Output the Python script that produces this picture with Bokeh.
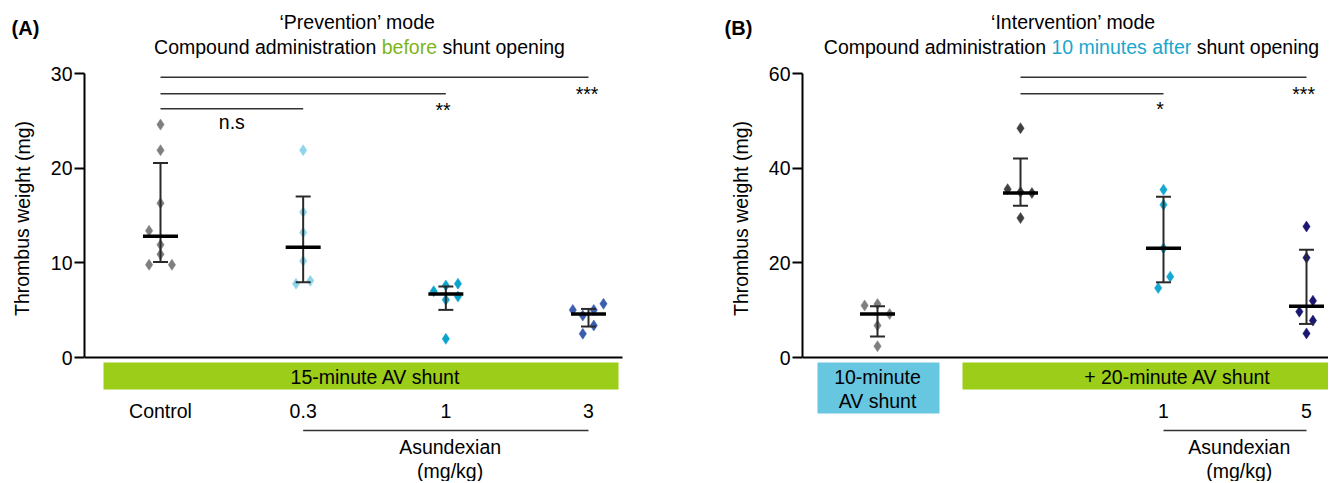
from bokeh.plotting import figure
from bokeh.models import Range1d, FixedTicker, Label
from bokeh.layouts import row
from bokeh.core.properties import value
from bokeh.embed import file_html
from bokeh.resources import INLINE

# ------------------------- data -------------------------
# Panel A : 'Prevention' mode
a_categories = ["Control", "0.3", "1", "3"]
a_control = [24.6, 21.9, 16.3, 13.4, 11.9, 10.9, 9.8, 9.8]
a_control_dx = [0, 0, 0, -0.08, 0, 0, -0.08, 0.08]
a_dose03 = [21.9, 15.35, 13.2, 10.2, 8.1, 7.8]
a_dose03_dx = [0, 0, 0, 0, 0.05, -0.05]
a_dose1 = [7.8, 7.6, 7.0, 6.44, 6.1, 1.97]
a_dose1_dx = [0.085, 0, -0.085, 0.085, 0, 0]
a_dose3 = [5.67, 5.03, 5.03, 4.43, 3.38, 2.5]
a_dose3_dx = [0.105, -0.11, 0.037, -0.04, 0.037, -0.04]
a_median = [12.8, 11.65, 6.72, 4.6]
a_low = [10.1, 7.95, 5.03, 3.27]
a_high = [20.55, 17.0, 7.5, 5.13]
a_colors = ["#7f7f7f", "#8fd5ea", "#0aa3cc", "#3a5dae"]
a_yticks = [0, 10, 20, 30]

# Panel B : 'Intervention' mode
b_categories = ["10-minute AV shunt", "Vehicle", "1", "5"]
b_shunt10 = [11.3, 11.0, 9.2, 6.76, 2.4]
b_shunt10_dx = [0, -0.09, 0.085, 0, 0]
b_vehicle = [48.5, 35.6, 35.0, 34.8, 29.5]
b_vehicle_dx = [0, -0.09, 0, 0.08, 0]
b_dose1 = [35.5, 32.3, 23.1, 17.1, 14.7]
b_dose1_dx = [0, 0, 0, 0.047, -0.037]
b_dose5 = [27.7, 21.1, 12.0, 9.7, 7.8, 5.1]
b_dose5_dx = [0, 0, 0.045, -0.05, 0.045, 0]
b_median = [9.2, 34.8, 23.1, 10.85]
b_low = [4.44, 32.1, 15.9, 7.1]
b_high = [10.85, 42.1, 34.0, 22.8]
b_colors = ["#7f7f7f", "#404040", "#14a8d0", "#1b1670"]
b_yticks = [0, 20, 40, 60]

# ------------------------- styling -------------------------
FONT = "Liberation Sans"
FS = "19.5px"
H = 481
GREEN = "#9bcd19"
GREEN_TXT = "#7cb518"
LIGHTBLUE = "#67c6e0"
CYAN_TXT = "#1aa7cc"

ARIAL = {' ': 278, 'a': 556, 'b': 556, 'c': 500, 'd': 556, 'e': 556, 'f': 278, 'g': 556,
         'h': 556, 'i': 222, 'm': 833, 'n': 556, 'o': 556, 'p': 556, 'r': 333, 's': 500,
         't': 278, 'u': 556, 'C': 722, '0': 556, '1': 556}


def text_width(s, px):
    return sum(ARIAL.get(ch, 556) for ch in s) / 1000.0 * px


def side_figure(page_left, width, items):
    """Narrow figure for the panel letter and the rotated y-axis title (page pixel coords)."""
    f = figure(width=width, height=H, output_backend="svg", toolbar_location=None,
               x_axis_location=None, y_axis_location=None,
               min_border_left=0, min_border_right=0, min_border_top=0, min_border_bottom=0,
               x_range=Range1d(page_left, page_left + width), y_range=Range1d(H, 0))
    f.outline_line_color = None
    f.grid.visible = False
    for (x, y, t, size, style, ang) in items:
        f.text(x=[x], y=[y], text=[t], text_font=value(FONT), text_font_size=value(size),
               text_font_style=value(style), text_color="black", text_align="center",
               text_baseline="middle", angle=ang)
    return f


class Panel:
    """Figure + conversion from page pixel layout to data coordinates."""

    def __init__(self, page_left, width, frame_left, cat0_px, cat3_px, y0_px, ytop_px, ytop_val, ytop_tick):
        self.sx = (cat3_px - cat0_px) / 3.0
        self.cat0 = cat0_px
        self.sy = (y0_px - ytop_px) / ytop_val
        self.y0 = y0_px
        frame_right = page_left + width
        self.p = figure(width=width, height=H, output_backend="svg", toolbar_location=None,
                        x_axis_location=None, min_border_left=frame_left - page_left,
                        min_border_right=0, min_border_top=0, min_border_bottom=0,
                        x_range=Range1d(self.x(frame_left), self.x(frame_right)),
                        y_range=Range1d(self.y(H), self.y(0)))
        p = self.p
        p.outline_line_color = None
        p.grid.visible = False
        p.background_fill_color = "white"
        p.border_fill_color = "white"
        ax = p.yaxis[0]
        ax.bounds = (0, ytop_val)
        ax.ticker = FixedTicker(ticks=ytop_tick)
        ax.minor_tick_line_color = None
        ax.major_tick_in = 0
        ax.major_tick_out = 10
        ax.major_tick_line_width = 2
        ax.axis_line_width = 2
        ax.axis_line_color = "black"
        ax.major_tick_line_color = "black"
        ax.major_label_text_font = FONT
        ax.major_label_text_font_size = FS
        ax.major_label_text_color = "black"
        ax.major_label_standoff = 2

    def x(self, px):
        return (px - self.cat0) / self.sx

    def y(self, py):
        return (self.y0 - py) / self.sy

    def label(self, X, Y, text, size=FS, color="black", align="center", bold=False, angle=0.0):
        self.p.add_layout(Label(x=X, y=Y, text=text, text_font=FONT, text_font_size=size,
                                text_color=color, text_align=align, text_baseline="middle",
                                text_font_style="bold" if bold else "normal", angle=angle))

    def title_parts(self, center_px, py, parts):
        total = text_width("".join(t for t, _ in parts), 19.5)
        x = center_px - total / 2.0
        for t, c in parts:
            lead = len(t) - len(t.lstrip(" "))
            xs = x + text_width(" " * lead, 19.5)
            self.label(self.x(xs), self.y(py), t.strip(" "), color=c, align="left")
            x += text_width(t, 19.5)

    def groups(self, values, offsets, colors, med, lo, hi):
        p = self.p
        for i, (vals, dx) in enumerate(zip(values, offsets)):
            p.scatter([i + d for d in dx], vals, marker="diamond", size=11,
                      fill_color=colors[i], line_color=colors[i], line_width=0.5)
        cw = 7.5 / self.sx
        mw = 17.5 / self.sx
        idx = list(range(len(med)))
        p.segment(x0=idx, y0=lo, x1=idx, y1=hi, line_width=2, line_color="#2a2a2a")
        p.segment(x0=[i - cw for i in idx], y0=hi, x1=[i + cw for i in idx], y1=hi,
                  line_width=2, line_color="#2a2a2a")
        p.segment(x0=[i - cw for i in idx], y0=lo, x1=[i + cw for i in idx], y1=lo,
                  line_width=2, line_color="#2a2a2a")
        p.segment(x0=[i - mw for i in idx], y0=med, x1=[i + mw for i in idx], y1=med,
                  line_width=3.5, line_color="black")

    def sig(self, i0, i1, py, mark, mark_x, mark_py):
        self.p.segment(x0=[i0], y0=[self.y(py)], x1=[i1], y1=[self.y(py)],
                       line_width=1.6, line_color="#333333")
        self.label(mark_x, self.y(mark_py), mark)


# ------------------------- Panel A -------------------------
sideA = side_figure(0, 44, [(25, 27, "(A)", "20px", "bold", 0.0),
                            (22, 218, "Thrombus weight (mg)", FS, "normal", 1.5707963)])
A = Panel(page_left=44, width=664, frame_left=84, cat0_px=160, cat3_px=588,
          y0_px=357, ytop_px=73, ytop_val=30, ytop_tick=a_yticks)
pa = A.p
A.groups([a_control, a_dose03, a_dose1, a_dose3],
         [a_control_dx, a_dose03_dx, a_dose1_dx, a_dose3_dx], a_colors, a_median, a_low, a_high)
pa.segment(x0=[A.x(84)], y0=[0], x1=[A.x(622)], y1=[0], line_width=2, line_color="black")
A.sig(0, 3, 76.7, "***", 3 - 0.01, 93)
A.sig(0, 2, 93.3, "**", 2 - 0.02, 109)
A.sig(0, 1, 108.3, "n.s", 0.5, 121)
A.label(A.x(357), A.y(21.7), "\u2018Prevention\u2019 mode")
A.title_parts(359, 46.7, [("Compound administration ", "black"), ("before", GREEN_TXT),
                          (" shunt opening", "black")])
pa.quad(left=[A.x(103)], right=[A.x(618)], top=[A.y(362)], bottom=[A.y(389)],
        fill_color=GREEN, line_color=None)
A.label(A.x(375), A.y(376.7), "15-minute AV shunt")
for i, c in enumerate(a_categories):
    A.label(i, A.y(410), c)
pa.segment(x0=[1], y0=[A.y(430)], x1=[3], y1=[A.y(430)], line_width=1.6, line_color="#333333")
A.label(2.03, A.y(446), "Asundexian")
A.label(2.03, A.y(470), "(mg/kg)")

# ------------------------- Panel B -------------------------
sideB = side_figure(708, 48, [(738, 27, "(B)", "20px", "bold", 0.0),
                              (740, 218, "Thrombus weight (mg)", FS, "normal", 1.5707963)])
B = Panel(page_left=756, width=572, frame_left=802, cat0_px=877, cat3_px=1306,
          y0_px=357, ytop_px=73.3, ytop_val=60, ytop_tick=b_yticks)
pb = B.p
B.groups([b_shunt10, b_vehicle, b_dose1, b_dose5],
         [b_shunt10_dx, b_vehicle_dx, b_dose1_dx, b_dose5_dx], b_colors, b_median, b_low, b_high)
pb.segment(x0=[B.x(802)], y0=[0], x1=[B.x(1340)], y1=[0], line_width=2, line_color="black")
B.sig(1, 3, 76.7, "***", 3 - 0.02, 93)
B.sig(1, 2, 93.3, "*", 2 - 0.025, 108)
B.label(B.x(1073), B.y(21.7), "\u2018Intervention\u2019 mode")
B.title_parts(1071, 46.7, [("Compound administration ", "black"), ("10 minutes after", CYAN_TXT),
                           (" shunt opening", "black")])
pb.quad(left=[B.x(817)], right=[B.x(939)], top=[B.y(362)], bottom=[B.y(413)],
        fill_color=LIGHTBLUE, line_color=None)
B.label(0, B.y(376.7), "10-minute")
B.label(0, B.y(400), "AV shunt")
pb.quad(left=[B.x(962)], right=[B.x(1340)], top=[B.y(362)], bottom=[B.y(389)],
        fill_color=GREEN, line_color=None)
B.label(B.x(1177), B.y(376.7), "+ 20-minute AV shunt")
B.label(2, B.y(410), b_categories[2])
B.label(3, B.y(410), b_categories[3])
pb.segment(x0=[2], y0=[B.y(430)], x1=[3], y1=[B.y(430)], line_width=1.6, line_color="#333333")
B.label(2.5 + 0.03, B.y(446), "Asundexian")
B.label(2.5 + 0.03, B.y(470), "(mg/kg)")

layout = row(sideA, pa, sideB, pb)
open("out.html", "w").write(file_html(layout, INLINE))
